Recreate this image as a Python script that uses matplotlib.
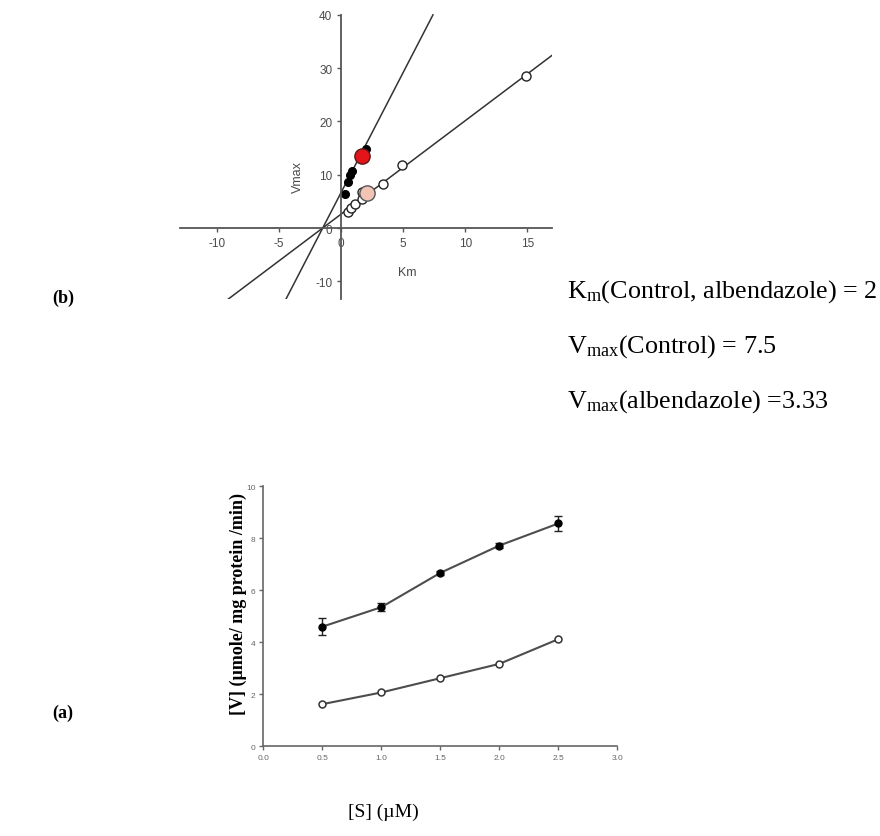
import numpy as np
import matplotlib
matplotlib.use("Agg")
import matplotlib.pyplot as plt

# ---- panel (b): direct linear plot, Km vs Vmax ----
ctrl_km = [0.3, 0.56, 0.7, 0.86, 2.0]
ctrl_vmax = [6.4, 8.7, 10.0, 10.8, 14.8]
ctrl_mean = (1.64, 13.6)

alb_km = [0.56, 0.83, 1.1, 1.7, 1.67, 3.36, 4.87, 14.9]
alb_vmax = [2.95, 3.7, 4.6, 5.4, 6.7, 8.3, 11.9, 28.6]
alb_mean = (2.07, 6.6)

# fitted lines, endpoints
ctrl_line_km = [-4.45, 7.4]
ctrl_line_vmax = [-13.3, 40.0]
alb_line_km = [-9.1, 17.0]
alb_line_vmax = [-13.3, 32.4]

b_xticks = [-10, -5, 0, 5, 10, 15]
b_yticks = [-10, 0, 10, 20, 30, 40]

# ---- panel (a): V vs [S] ----
s_conc = [0.5, 1.0, 1.5, 2.0, 2.5]
v_control = [4.6, 5.35, 6.67, 7.72, 8.57]
v_control_err = [0.33, 0.15, 0.08, 0.1, 0.3]
v_albendazole = [1.62, 2.07, 2.62, 3.17, 4.12]

a_xticks = [0.0, 0.5, 1.0, 1.5, 2.0, 2.5, 3.0]
a_yticks = [0, 2, 4, 6, 8, 10]

notes = [r"K$_{\rm m}$(Control, albendazole) = 2",
         r"V$_{\rm max}$(Control) = 7.5",
         r"V$_{\rm max}$(albendazole) =3.33"]

W, H = 880, 837
plt.rcParams["mathtext.fontset"] = "custom"
plt.rcParams["mathtext.rm"] = "Liberation Serif"
plt.rcParams["mathtext.it"] = "Liberation Serif:italic"
plt.rcParams["axes.unicode_minus"] = False
fig = plt.figure(figsize=(W / 100, H / 100), dpi=100)


def px(x, y):
    return x / W, 1 - y / H


axis_gray = "#555555"
tick_gray = "#4a4a4a"

# top panel
axb = fig.add_axes([180 / W, 1 - 300 / H, 372 / W, 290 / H])
axb.set_xlim(-13, 17)
axb.set_ylim(-13.3, 41.1)
axb.spines["left"].set_position("zero")
axb.spines["bottom"].set_position("zero")
axb.spines["right"].set_visible(False)
axb.spines["top"].set_visible(False)
axb.spines["left"].set_bounds(-13.3, 40)
for sp in ["left", "bottom"]:
    axb.spines[sp].set_color(axis_gray)
    axb.spines[sp].set_linewidth(1.3)
axb.set_xticks(b_xticks)
axb.set_yticks(b_yticks)
axb.tick_params(direction="out", length=3, width=1, color=axis_gray,
                labelsize=8.5, labelcolor=tick_gray)
for lab in axb.get_xticklabels() + axb.get_yticklabels():
    lab.set_family("Liberation Sans")
axb.patch.set_alpha(0)

axb.plot(ctrl_line_km, ctrl_line_vmax, color="#333333", lw=1.1)
axb.plot(alb_line_km, alb_line_vmax, color="#333333", lw=1.1)
axb.plot(alb_km, alb_vmax, "o", ms=6.5, mfc="white", mec="#222222", mew=1.0)
axb.plot(ctrl_km, ctrl_vmax, "o", ms=5.5, color="black")
axb.plot(*ctrl_mean, "o", ms=11, mfc="#e3151b", mec="#5a1a1a", mew=1)
axb.plot(*alb_mean, "o", ms=11, mfc="#f3c4b6", mec="#555555", mew=1)

fig.text(*px(298, 177), "Vmax", rotation=90, ha="center", va="center",
         fontsize=9, color=tick_gray, family="Liberation Sans")
fig.text(*px(407, 273), "Km", ha="center", va="center",
         fontsize=9, color=tick_gray, family="Liberation Sans")

for i, txt in enumerate(notes):
    fig.text(*px(567, 292 + i * 55), txt, ha="left", va="center",
             fontsize=18.8, family="Liberation Serif", color="black")

fig.text(*px(63, 298), "(b)", ha="center", va="center", fontsize=13,
         fontweight="bold", family="Liberation Serif")
fig.text(*px(63, 713), "(a)", ha="center", va="center", fontsize=13,
         fontweight="bold", family="Liberation Serif")

# bottom panel
axa = fig.add_axes([263.3 / W, 1 - 747.3 / H, 354 / W, 260 / H])
axa.set_xlim(0, 3)
axa.set_ylim(0, 10)
axa.spines["right"].set_visible(False)
axa.spines["top"].set_visible(False)
for sp in ["left", "bottom"]:
    axa.spines[sp].set_color("#666666")
    axa.spines[sp].set_linewidth(1.2)
axa.set_xticks(a_xticks)
axa.set_yticks(a_yticks)
axa.set_xticklabels([f"{t:.1f}" for t in a_xticks])
axa.tick_params(direction="out", length=3, width=1, color="#666666",
                labelsize=6, labelcolor="#666666", pad=2.5)
for lab in axa.get_xticklabels() + axa.get_yticklabels():
    lab.set_family("Liberation Sans")
axa.patch.set_alpha(0)

axa.errorbar(s_conc, v_control, yerr=v_control_err, fmt="-o", color="#4d4d4d",
             lw=1.5, ms=5, mfc="black", mec="black", ecolor="#222222",
             elinewidth=1, capsize=3, capthick=1)
axa.plot(s_conc, v_albendazole, "-o", color="#4d4d4d", lw=1.5, ms=5,
         mfc="white", mec="#333333", mew=1.1)

fig.text(*px(238, 604), "[V] (\u00b5mole/ mg protein /min)", rotation=90,
         ha="center", va="center", fontsize=13, fontweight="bold",
         family="Liberation Serif")
fig.text(*px(383, 812), "[S] (\u00b5M)", ha="center", va="center",
         fontsize=14, family="Liberation Serif")

fig.savefig("out.png", dpi=100)
